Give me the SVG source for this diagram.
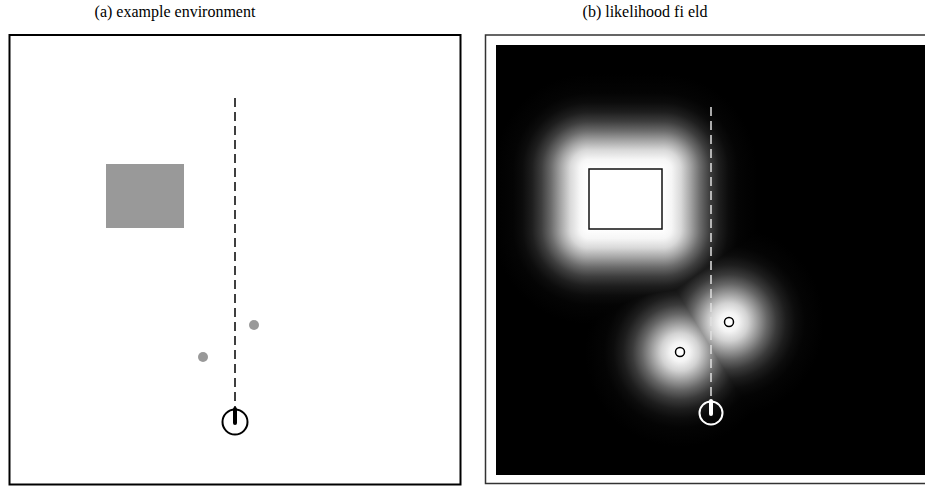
<svg xmlns="http://www.w3.org/2000/svg" width="925" height="487" viewBox="0 0 925 487">
<style>
.title{font-family:"Liberation Serif","Times New Roman",serif;font-size:16px;fill:#000;text-anchor:middle}
.frame{fill:none;stroke:#000;stroke-width:2}
.lt{mix-blend-mode:lighten}
</style>
<defs>
<clipPath id="fieldClip"><rect x="496" y="45" width="429" height="430"/></clipPath>
<radialGradient id="dotG" cx="0" cy="0" r="95" gradientUnits="userSpaceOnUse">
<stop offset="0" stop-color="#fff"/><stop offset="0.1" stop-color="#f4f4f4"/><stop offset="0.2" stop-color="#d2d2d2"/><stop offset="0.3" stop-color="#9c9c9c"/><stop offset="0.4" stop-color="#666"/><stop offset="0.5" stop-color="#3a3a3a"/><stop offset="0.6" stop-color="#1d1d1d"/><stop offset="0.7" stop-color="#0c0c0c"/><stop offset="0.8" stop-color="#040404"/><stop offset="1" stop-color="#000"/>
</radialGradient>
<radialGradient id="d1" href="#dotG" gradientTransform="translate(729 322)"/>
<radialGradient id="d2" href="#dotG" gradientTransform="translate(680 352)"/>
<radialGradient id="rG" cx="0" cy="0" r="95" gradientUnits="userSpaceOnUse">
<stop offset="0" stop-color="#fff"/><stop offset="0.1" stop-color="#f6f6f6"/><stop offset="0.2" stop-color="#d8d8d8"/><stop offset="0.3" stop-color="#a4a4a4"/><stop offset="0.4" stop-color="#6c6c6c"/><stop offset="0.5" stop-color="#3e3e3e"/><stop offset="0.6" stop-color="#1e1e1e"/><stop offset="0.7" stop-color="#0c0c0c"/><stop offset="0.8" stop-color="#040404"/><stop offset="1" stop-color="#000"/>
</radialGradient>
<radialGradient id="cTL" href="#rG" gradientTransform="translate(589 169)"/>
<radialGradient id="cTR" href="#rG" gradientTransform="translate(662 169)"/>
<radialGradient id="cBL" href="#rG" gradientTransform="translate(589 229)"/>
<radialGradient id="cBR" href="#rG" gradientTransform="translate(662 229)"/>
<linearGradient id="lin" x1="0" y1="0" x2="1" y2="0">
<stop offset="0" stop-color="#fff"/><stop offset="0.1" stop-color="#f6f6f6"/><stop offset="0.2" stop-color="#d8d8d8"/><stop offset="0.3" stop-color="#a4a4a4"/><stop offset="0.4" stop-color="#6c6c6c"/><stop offset="0.5" stop-color="#3e3e3e"/><stop offset="0.6" stop-color="#1e1e1e"/><stop offset="0.7" stop-color="#0c0c0c"/><stop offset="0.8" stop-color="#040404"/><stop offset="1" stop-color="#000"/>
</linearGradient>
<linearGradient id="gL" href="#lin" gradientUnits="userSpaceOnUse" x1="589" y1="0" x2="494" y2="0"/>
<linearGradient id="gR" href="#lin" gradientUnits="userSpaceOnUse" x1="662" y1="0" x2="757" y2="0"/>
<linearGradient id="gT" href="#lin" gradientUnits="userSpaceOnUse" x1="0" y1="169" x2="0" y2="74"/>
<linearGradient id="gB" href="#lin" gradientUnits="userSpaceOnUse" x1="0" y1="229" x2="0" y2="324"/>
</defs>
<rect width="925" height="487" fill="#fff"/>
<text class="title" x="175" y="17">(a) example environment</text>
<text class="title" x="645" y="17">(b) likelihood fi eld</text>

<g id="panel-a">
<rect class="frame" x="9.5" y="35" width="451" height="449.5"/>
<rect id="obstacle-a" x="106" y="164" width="78" height="64" fill="#999"/>
<circle id="dot-a1" cx="254" cy="325" r="5" fill="#999"/>
<circle id="dot-a2" cx="203" cy="357" r="5" fill="#999"/>
</g>

<g id="panel-b">
<rect x="485.5" y="35" width="450" height="448.5" fill="none" stroke="#333" stroke-width="1.5"/>
<g id="field" clip-path="url(#fieldClip)">
<rect x="496" y="45" width="429" height="430" fill="#000"/>
<rect class="lt" x="634" y="227" width="190" height="190" fill="url(#d1)"/>
<rect class="lt" x="585" y="257" width="190" height="190" fill="url(#d2)"/>
<rect class="lt" x="494" y="169" width="95" height="60" fill="url(#gL)"/>
<rect class="lt" x="662" y="169" width="95" height="60" fill="url(#gR)"/>
<rect class="lt" x="589" y="74" width="73" height="95" fill="url(#gT)"/>
<rect class="lt" x="589" y="229" width="73" height="95" fill="url(#gB)"/>
<rect class="lt" x="494" y="74" width="95" height="95" fill="url(#cTL)"/>
<rect class="lt" x="662" y="74" width="95" height="95" fill="url(#cTR)"/>
<rect class="lt" x="494" y="229" width="95" height="95" fill="url(#cBL)"/>
<rect class="lt" x="662" y="229" width="95" height="95" fill="url(#cBR)"/>
</g>
<rect id="obstacle-b" x="589" y="169" width="73" height="60" fill="#fff" stroke="#111" stroke-width="1.5"/>
<circle id="dot-b1" cx="729" cy="322" r="4.5" fill="#fff" stroke="#000" stroke-width="1.5"/>
<circle id="dot-b2" cx="680" cy="352" r="4.5" fill="#fff" stroke="#000" stroke-width="1.5"/>
</g>

<g id="connectors">
<line x1="235" y1="98" x2="235" y2="410" stroke="#000" stroke-width="1.5" stroke-dasharray="9,5"/>
<line x1="711" y1="107" x2="711" y2="402" stroke="#e0e0e0" stroke-width="1.5" stroke-dasharray="9,5"/>
</g>

<g id="robot-a">
<circle cx="235" cy="422" r="12.5" fill="none" stroke="#000" stroke-width="2"/>
<line x1="235" y1="409" x2="235" y2="423" stroke="#000" stroke-width="4" stroke-linecap="round"/>
</g>
<g id="robot-b">
<circle cx="711" cy="413" r="11.5" fill="none" stroke="#fff" stroke-width="2"/>
<line x1="711" y1="401" x2="711" y2="414" stroke="#fff" stroke-width="4" stroke-linecap="round"/>
</g>
</svg>
